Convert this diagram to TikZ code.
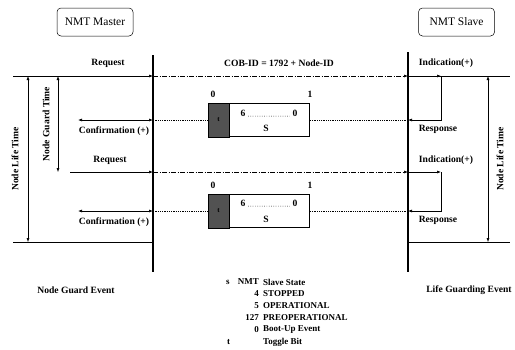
\documentclass[tikz,border=0pt]{standalone}
\usepackage{fontspec}
\setmainfont{Liberation Serif}
\usetikzlibrary{arrows.meta}
\begin{document}
\begin{tikzpicture}[x=1pt,y=-1pt,
  lbl/.style={font=\fontsize{9.6}{10}\selectfont\bfseries, inner sep=0pt},
  leg/.style={font=\fontsize{9}{10}\selectfont\bfseries, inner sep=0pt},
  thinl/.style={line width=0.6pt},
  arr/.style={-{Latex[length=4pt,width=3pt]}},
  darr/.style={{Latex[length=4pt,width=3pt]}-{Latex[length=4pt,width=3pt]}},
  ddash/.style={dash pattern=on 5pt off 1.5pt on 1pt off 1.5pt, line width=0.6pt},
  dotl/.style={dash pattern=on 1pt off 0.8pt, line width=0.6pt},
  party/.style={draw, rounded corners=4pt, minimum width=76pt, minimum height=28pt, font=\fontsize{11.5}{12}\selectfont, line width=0.5pt},
  lifeline/.style={line width=1.3pt},
  tbit/.style={draw, fill=black!68, minimum width=21pt, minimum height=34pt, inner sep=0pt, font=\fontsize{7}{8}\selectfont\bfseries, line width=0.6pt},
  sbox/.style={draw, minimum width=80pt, minimum height=33pt, inner sep=0pt, anchor=west, line width=0.7pt},
  dotrow/.style={line width=0.7pt, dash pattern=on 0.7pt off 1.6pt}]
\useasboundingbox (0,0) rectangle (515,349);

% parties
\node[party] (master) at (95,22) {NMT Master};
\node[party] (slave) at (456.5,22) {NMT Slave};

% lifelines
\coordinate (mt) at (153,55); \coordinate (mb) at (153,272);
\coordinate (st) at (408,52); \coordinate (sb) at (408,272);
\draw[lifeline] (mt) -- (mb);
\draw[lifeline] (st) -- (sb);

% ---------- cycle 1 ----------
\coordinate (L1) at (13,76); \coordinate (M1) at (153,76);
\coordinate (S1) at (408,76); \coordinate (R1) at (510,76);
\coordinate (I1) at (441,76); \coordinate (T1) at (441,120);
\coordinate (SR1) at (408,120); \coordinate (M2) at (153,120);
\coordinate (C1) at (78,120);
\draw[thinl, arr] (L1) -- (M1);
\draw[ddash, arr] (M1) -- (S1);
\draw[thinl] (S1) -- (R1);
\draw[thinl, arr] (S1) -- (I1);
\draw[thinl, arr] (I1) -- (T1) -- (SR1);

\node[tbit] (g1) at (218.5,120) {t};
\node[sbox] (b1) at (g1.east) {};
\node[lbl] (six1) at (243,113) {6};
\node[lbl] (zero1) at (295,113) {0};
\draw[dotrow] ([xshift=2.5pt]six1.base east) -- ([xshift=-2.5pt]zero1.base west);
\node[lbl] (s1) at (266,128) {S};
\node[lbl] (n01) at (213,94) {0};
\node[lbl] (n11) at (310,94) {1};
\draw[dotl] (g1.west) -- (M2);
\draw[thinl, darr] (C1) -- (M2);
\draw[dotl] (b1.east) -- (SR1);

\node[lbl] (req1) at (108,63) {Request};
\node[lbl] (cob) at (279,63) {COB-ID = 1792 + Node-ID};
\node[lbl] (ind1) at (446,63) {Indication(+)};
\node[lbl] (conf1) at (114,131) {Confirmation (+)};
\node[lbl] (resp1) at (438,129) {Response};

% ---------- cycle 2 ----------
\coordinate (L2) at (70,172); \coordinate (M3) at (153,172);
\coordinate (S2) at (408,172);
\coordinate (I2) at (441,172); \coordinate (T2) at (441,211);
\coordinate (SR2) at (408,211); \coordinate (M4) at (153,211);
\coordinate (C2) at (78,211);
\draw[thinl, arr] (L2) -- (M3);
\draw[ddash, arr] (M3) -- (S2);
\draw[thinl, arr] (S2) -- (I2);
\draw[thinl, arr] (I2) -- (T2) -- (SR2);

\node[tbit] (g2) at (218.5,211) {t};
\node[sbox] (b2) at (g2.east) {};
\node[lbl] (six2) at (243,203) {6};
\node[lbl] (zero2) at (295,203) {0};
\draw[dotrow] ([xshift=2.5pt]six2.base east) -- ([xshift=-2.5pt]zero2.base west);
\node[lbl] (s2) at (266,219) {S};
\node[lbl] (n02) at (213,185) {0};
\node[lbl] (n12) at (310,185) {1};
\draw[dotl] (g2.west) -- (M4);
\draw[thinl, darr] (C2) -- (M4);
\draw[dotl] (b2.east) -- (SR2);

\node[lbl] (req2) at (110,160) {Request};
\node[lbl] (ind2) at (446,160) {Indication(+)};
\node[lbl] (conf2) at (114,222) {Confirmation (+)};
\node[lbl] (resp2) at (438,220) {Response};

% bottom lines
\coordinate (L3) at (13,242); \coordinate (M5) at (153,242);
\coordinate (S3) at (408,242); \coordinate (R3) at (510,242);
\draw[thinl] (L3) -- (M5);
\draw[thinl] (S3) -- (R3);

% time spans
\coordinate (nlt1) at (28,76); \coordinate (nlt2) at (28,242);
\coordinate (ngt1) at (58,76); \coordinate (ngt2) at (58,172);
\coordinate (rlt1) at (488,76); \coordinate (rlt2) at (488,242);
\draw[line width=0.5pt, darr] (nlt1) -- (nlt2);
\draw[line width=0.5pt, darr] (ngt1) -- (ngt2);
\draw[line width=0.5pt, darr] (rlt1) -- (rlt2);
\node[lbl, rotate=90] (nltl) at (15,159) {Node Life Time};
\node[lbl, rotate=90] (ngtl) at (46,124) {Node Guard Time};
\node[lbl, rotate=90] (rltl) at (500,159) {Node Life Time};

% events
\node[lbl] (nge) at (76,290) {Node Guard Event};
\node[lbl] (lge) at (469,290) {Life Guarding Event};

% legend
\node[leg, anchor=west] (k1) at (226,282) {s};
\node[leg, anchor=east] (v1) at (259,282) {NMT};
\node[leg, anchor=west] (w1) at (263,282) {Slave State};
\node[leg, anchor=east] (v2) at (259,294) {4};
\node[leg, anchor=west] (w2) at (263,294) {STOPPED};
\node[leg, anchor=east] (v3) at (259,306) {5};
\node[leg, anchor=west] (w3) at (263,306) {OPERATIONAL};
\node[leg, anchor=east] (v4) at (259,318) {127};
\node[leg, anchor=west] (w4) at (263,318) {PREOPERATIONAL};
\node[leg, anchor=east] (v5) at (259,330) {0};
\node[leg, anchor=west] (w5) at (263,330) {Boot-Up Event};
\node[leg, anchor=west] (k6) at (227,342) {t};
\node[leg, anchor=west] (w6) at (263,342) {Toggle Bit};
\end{tikzpicture}
\end{document}
